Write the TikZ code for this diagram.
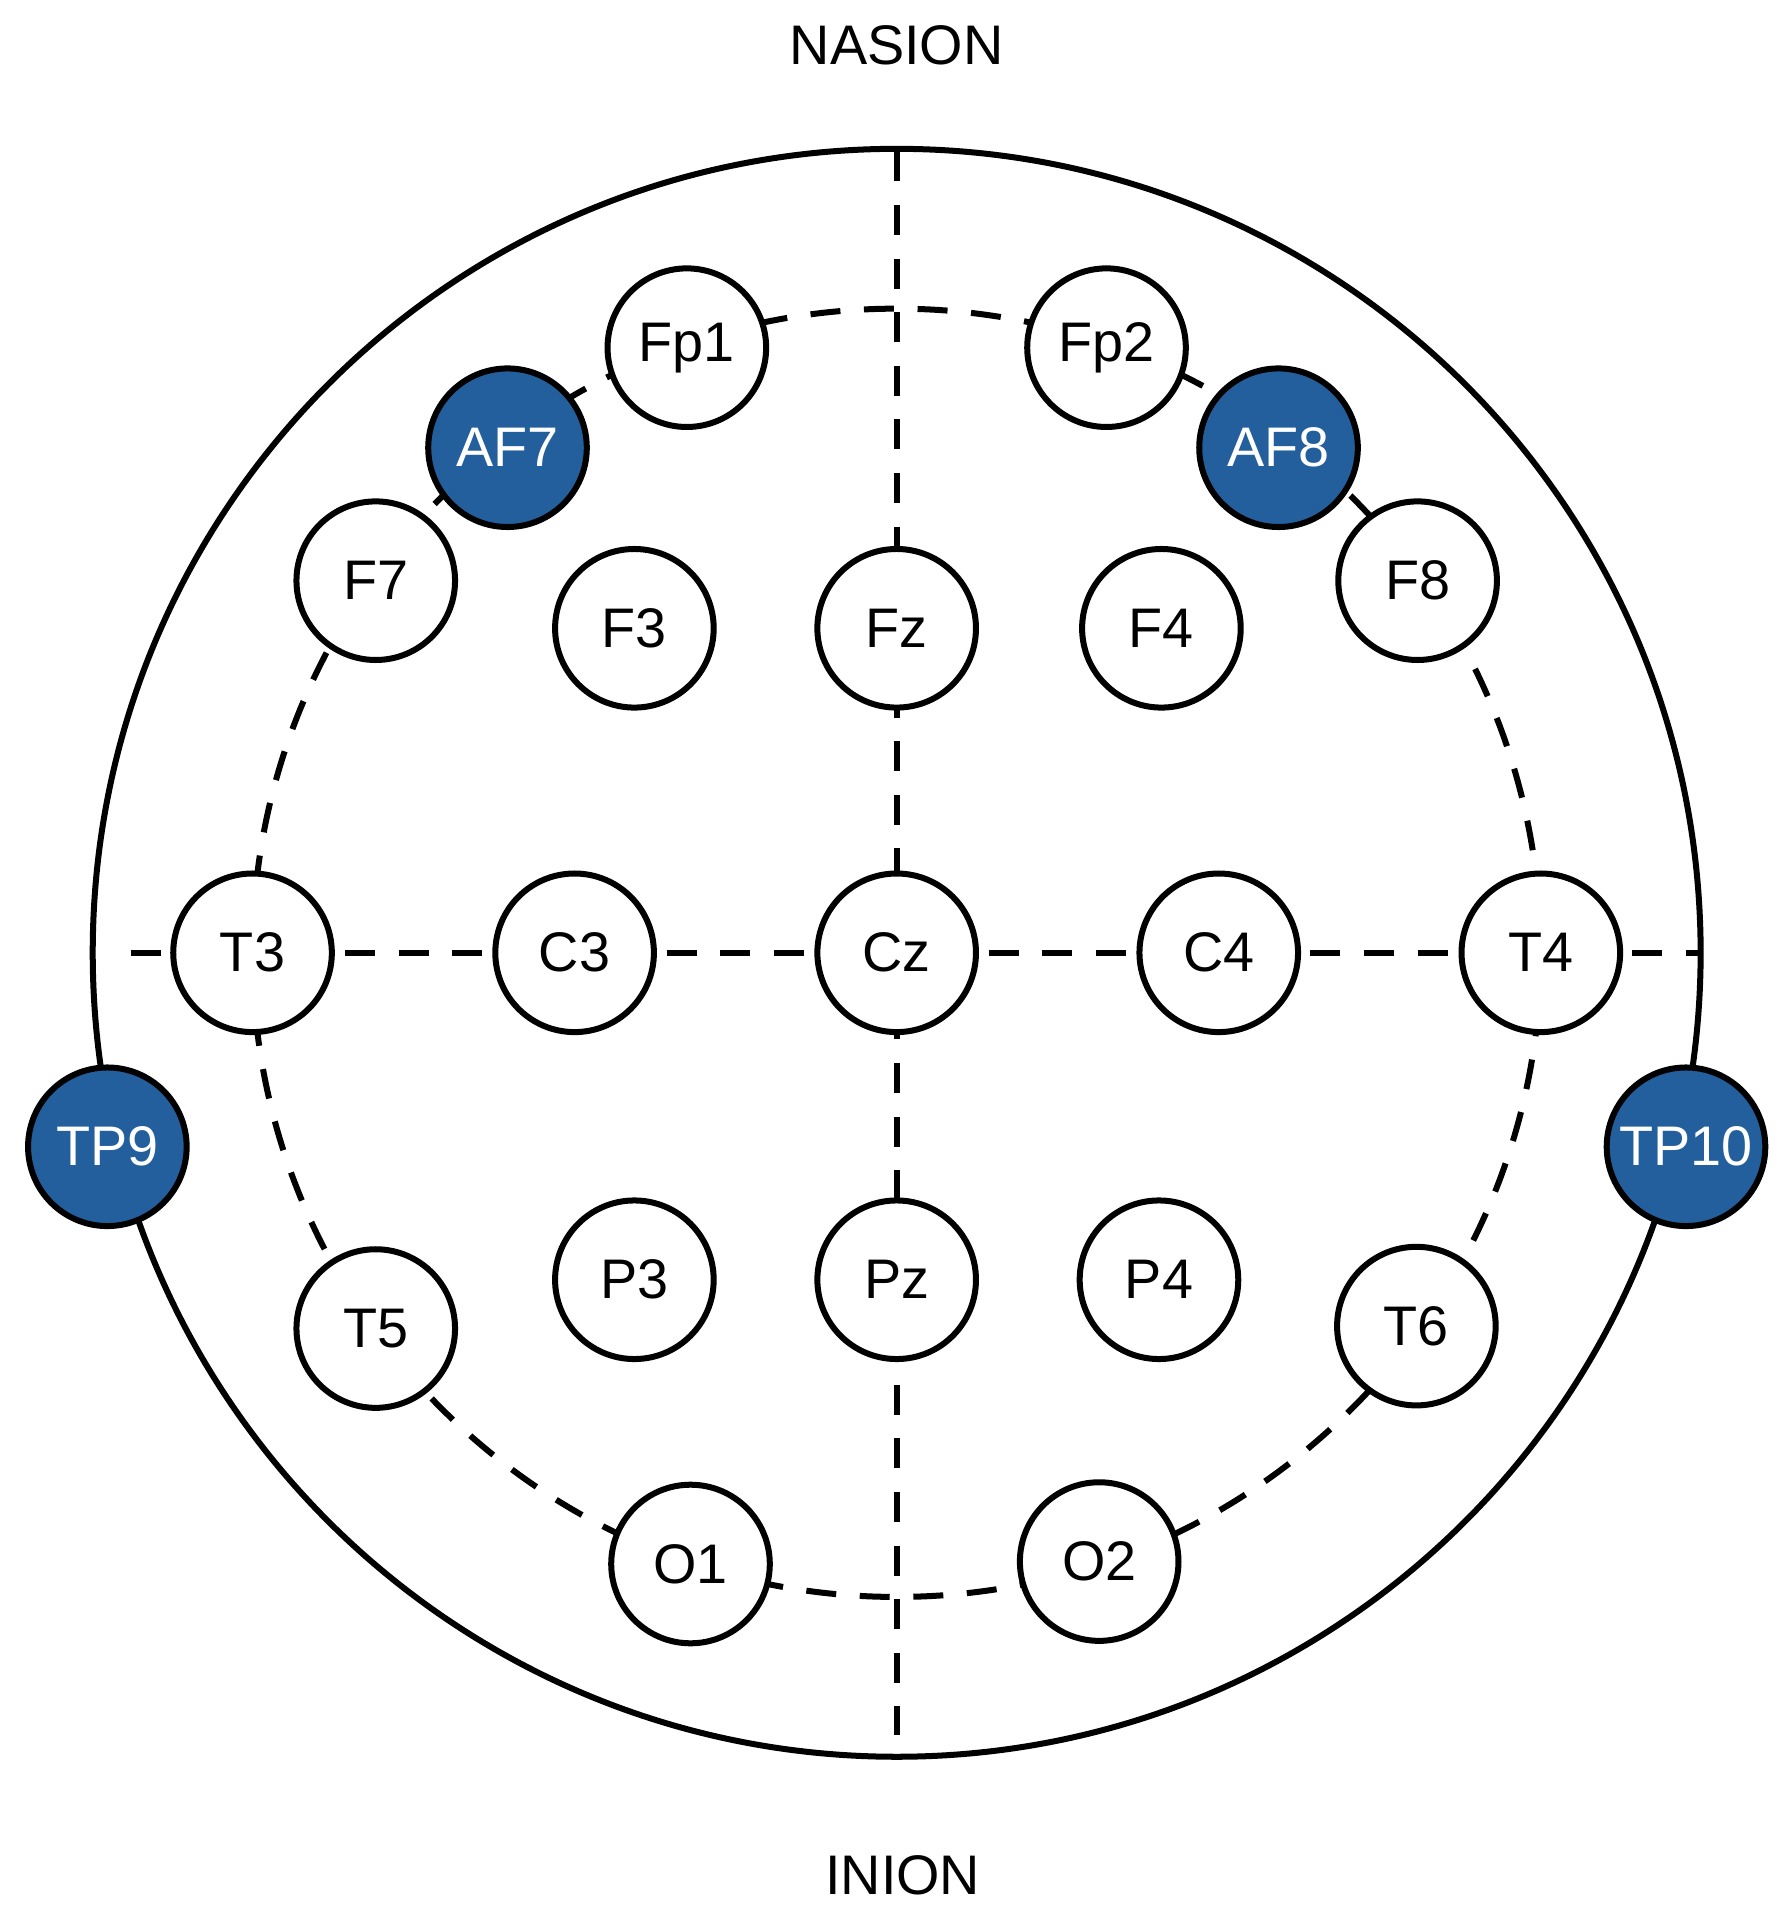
\documentclass[tikz,border=0pt]{standalone}
\usepackage{fontspec}
\setmainfont{Liberation Sans}
\begin{document}
\begin{tikzpicture}[x=0.01cm,y=-0.01cm,
 el/.style={circle,draw=black,line width=1.4pt,fill=white,minimum size=130*0.01cm,inner sep=0pt,font=\fontsize{13}{15}\selectfont},
 ref/.style={el,fill=refblue,text=white},
 dsh/.style={line width=1.4pt,dash pattern=on 7pt off 5.5pt}]
\definecolor{refblue}{HTML}{235F9C}
\useasboundingbox (0,0) rectangle (1468,1573);
\node[font=\fontsize{13}{15}\selectfont] (nas) at (735,37) {NASION};
\node[font=\fontsize{13}{15}\selectfont] (ini) at (740,1537) {INION};
\coordinate (c) at (735,781);
\draw[line width=1.4pt] (c) circle[radius=659];
\draw[dsh] (c) circle[radius=528];
\coordinate (vt) at (735,124);
\coordinate (vb) at (735,1422);
\coordinate (hl) at (107,781);
\coordinate (hr) at (1393,781);
\draw[dsh] (vt) -- (vb);
\draw[dsh] (hl) -- (hr);
\node[el] (Fp1) at (563,285) {Fp1};
\node[el] (Fp2) at (907,285) {Fp2};
\node[ref] (AF7) at (416,367) {AF7};
\node[ref] (AF8) at (1048,367) {AF8};
\node[el] (F7) at (308,476) {F7};
\node[el] (F8) at (1162,476) {F8};
\node[el] (F3) at (520,515) {F3};
\node[el] (Fz) at (735,515) {Fz};
\node[el] (F4) at (952,515) {F4};
\node[el] (T3) at (207,781) {T3};
\node[el] (C3) at (471,781) {C3};
\node[el] (Cz) at (735,781) {Cz};
\node[el] (C4) at (999,781) {C4};
\node[el] (T4) at (1263,781) {T4};
\node[ref] (TP9) at (88,940) {TP9};
\node[ref] (TP10) at (1382,940) {TP10};
\node[el] (T5) at (308,1089) {T5};
\node[el] (P3) at (520,1049) {P3};
\node[el] (Pz) at (735,1049) {Pz};
\node[el] (P4) at (950,1049) {P4};
\node[el] (T6) at (1161,1087) {T6};
\node[el] (O1) at (566,1282) {O1};
\node[el] (O2) at (901,1280) {O2};
\end{tikzpicture}
\end{document}
